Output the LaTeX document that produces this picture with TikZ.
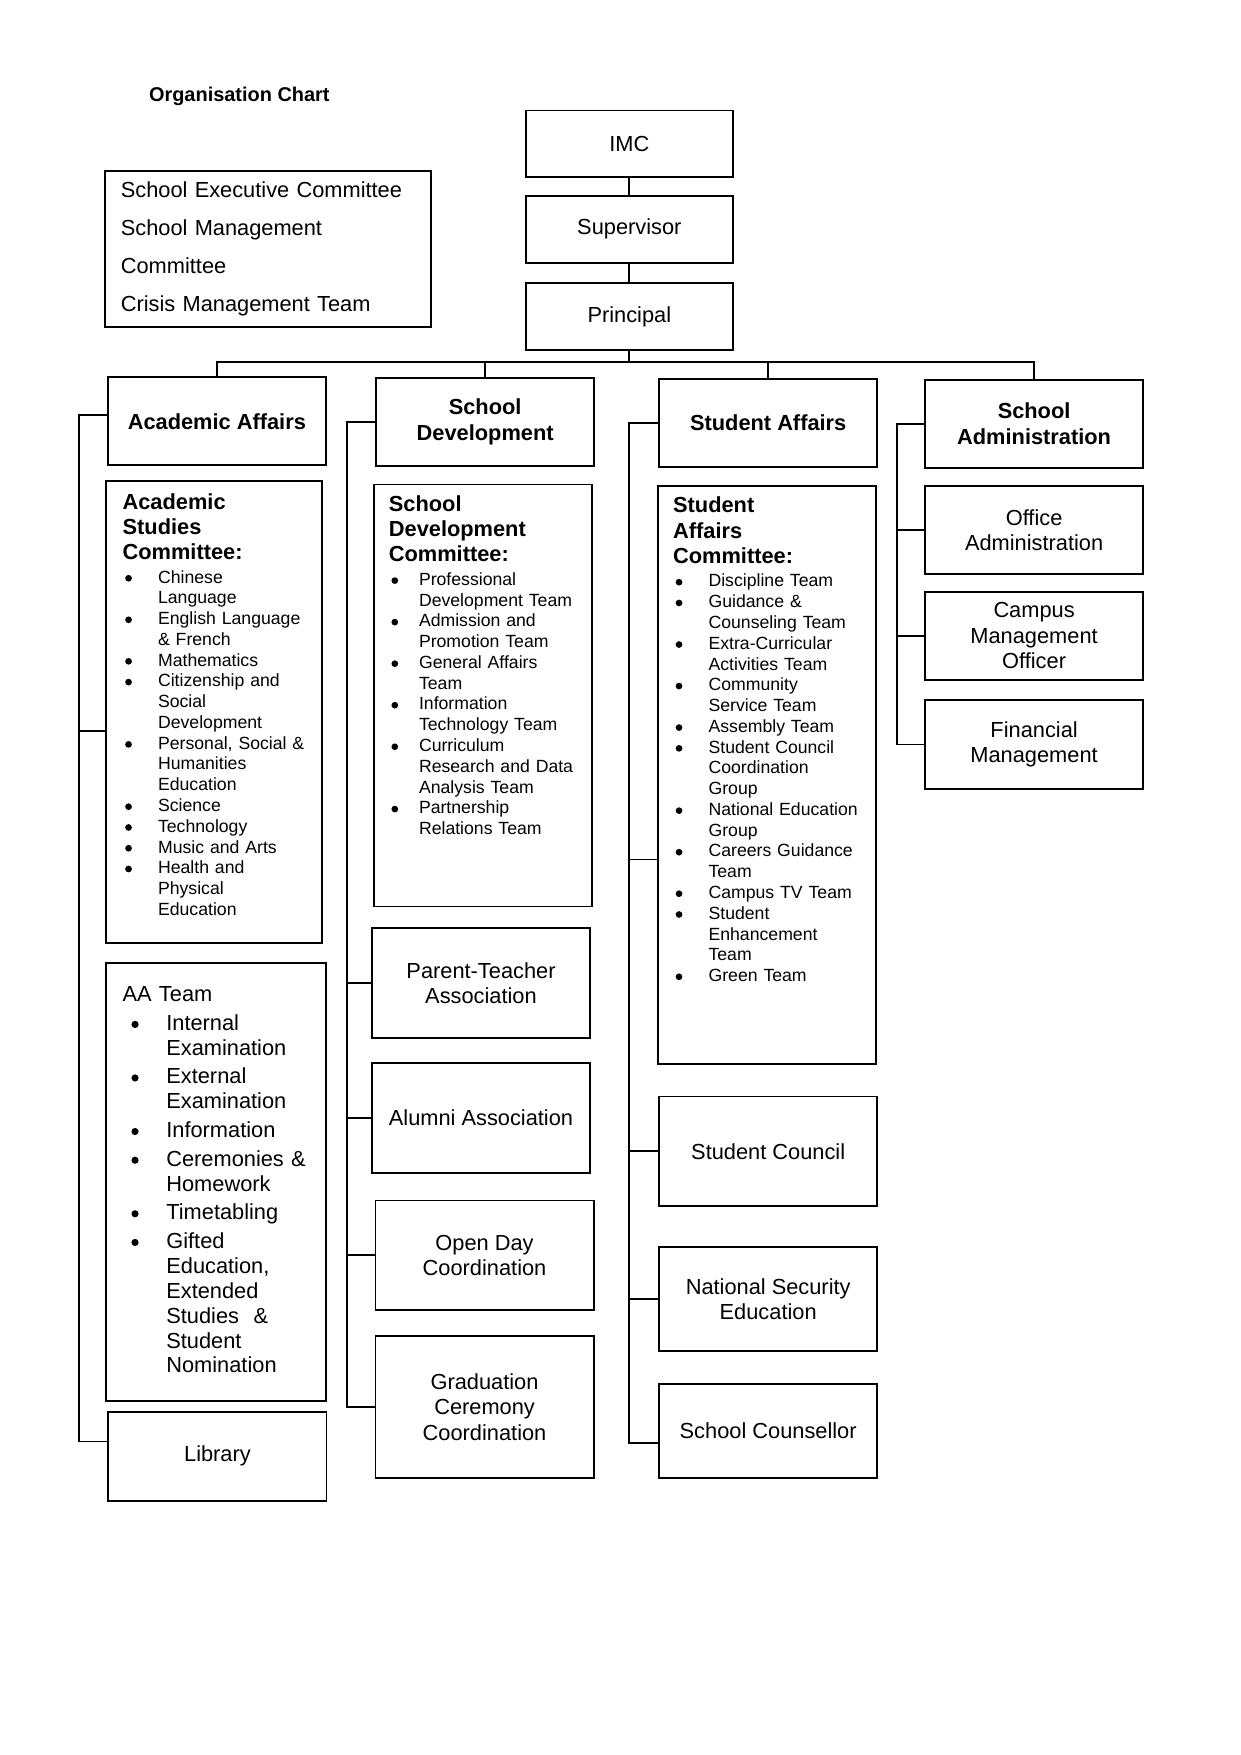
\documentclass[tikz,border=0pt]{standalone}
\usepackage{fontspec}
\setmainfont{Liberation Sans}
\usepackage{tikz}
\usetikzlibrary{positioning}

\newcommand{\fsz}[2]{\fontsize{#1}{#2}\selectfont}
\newlength{\bulw}
\setlength{\bulw}{0.2cm}
\newcommand{\bulr}{0.19em}
\newcommand{\bdot}{\tikz[baseline={(0,-0.27em)}]\fill (0,0) circle (\bulr);}
\newcommand{\bitem}[2][0.6cm]{\par\hangindent=#1\hangafter=1\noindent\makebox[#1][l]{\makebox[\bulw]{\bdot}}{\let\\\newline#2}\par}

\begin{document}
\begin{tikzpicture}[
  line width=0.9pt,
  font=\fsz{10.5}{12.2},
  box/.style={draw, minimum width=3.69cm, align=center, inner sep=2pt},
  topbox/.style={box, minimum width=3.5cm, minimum height=1.14cm},
  head/.style={box, minimum height=1.49cm, font=\bfseries\fsz{10.5}{12.4}},
  unit/.style={box, minimum height=1.86cm},
  panel/.style={draw, minimum width=3.69cm},
  listtext/.style={inner sep=0pt, align=left, text width=3.3cm, font=\fsz{8.5}{10}}
]
  \useasboundingbox (0,0) rectangle (21,-29.7);

  \node[font=\bfseries\fsz{9.6}{11}] (title) at (4.05,-1.63) {Organisation Chart};
  \node[draw, align=left, text width=4.98cm, inner xsep=0.265cm, minimum height=2.63cm, font=\fsz{10.5}{18.3}] (exec) at (4.535,-4.215) {School Executive Committee\\School Management\\Committee\\Crisis Management Team};

  \node[topbox, minimum height=1.12cm] (imc) at (10.65,-2.43) {IMC};
  \node[topbox] (sup) at (10.65,-3.88) {Supervisor};
  \node[topbox] (principal) at (10.65,-5.36) {Principal};

  \node[head] (aa) at (3.67,-7.13) {Academic Affairs};
  \node[head] (sd) at (8.21,-7.14) {School\\Development};
  \node[head] (sa) at (13.0,-7.16) {Student Affairs};
  \node[head] (admin) at (17.5,-7.17) {School\\Administration};

  \node[panel, minimum width=3.65cm, minimum height=7.82cm] (asc) at (3.625,-12.05) {};
  \node[listtext, below right=0.22cm and 0.284cm of asc.north west] (asctext) {%
    {\bfseries\fsz{10.5}{12.1}Academic\\Studies\\Committee:\par}\vspace{1.3pt}
    \bitem{Chinese\\Language}
    \bitem{English Language\\\& French}
    \bitem{Mathematics}
    \bitem{Citizenship and\\Social\\Development}
    \bitem{Personal, Social \&\\Humanities\\Education}
    \bitem{Science}
    \bitem{Technology}
    \bitem{Music and Arts}
    \bitem{Health and\\Physical\\Education}};
  \node[panel, minimum width=3.71cm, minimum height=7.42cm] (aat) at (3.655,-20.0) {};
  \node[listtext, font=\fsz{10.5}{12}, below right=0.415cm and 0.284cm of aat.north west] (aattext) {%
    \setlength{\parskip}{1.8pt}\setlength{\bulw}{0.42cm}\renewcommand{\bulr}{0.165em}AA Team\par
    \bitem[0.74cm]{Internal\\Examination}
    \bitem[0.74cm]{External\\Examination}
    \bitem[0.74cm]{Information}
    \bitem[0.74cm]{Ceremonies \&\\Homework}
    \bitem[0.74cm]{Timetabling}
    \bitem[0.74cm]{Gifted\\Education,\\Extended\\Studies \ \&\\Student\\Nomination}};
  \node[box, minimum height=1.5cm] (lib) at (3.68,-24.645) {Library};

  \node[panel, minimum height=7.14cm] (sdc) at (8.17,-11.77) {};
  \node[listtext, below right=0.20cm and 0.265cm of sdc.north west] (sdctext) {%
    {\bfseries\fsz{10.5}{12.1}School\\Development\\Committee:\par}\vspace{1.3pt}
    \bitem[0.51cm]{Professional\\Development Team}
    \bitem[0.51cm]{Admission and\\Promotion Team}
    \bitem[0.51cm]{General Affairs\\Team}
    \bitem[0.51cm]{Information\\Technology Team}
    \bitem[0.51cm]{Curriculum\\Research and Data\\Analysis Team}
    \bitem[0.51cm]{Partnership\\Relations Team}};
  \node[unit, minimum height=1.87cm] (pta) at (8.14,-16.635) {Parent-Teacher\\Association};
  \node[unit] (alumni) at (8.14,-18.92) {Alumni Association};
  \node[unit] (openday) at (8.20,-21.245) {Open Day\\Coordination};
  \node[unit, minimum height=2.40cm] (grad) at (8.20,-23.81) {Graduation\\Ceremony\\Coordination};

  \node[panel, minimum height=9.79cm] (sac) at (12.98,-13.115) {};
  \node[listtext, below right=0.20cm and 0.265cm of sac.north west] (sactext) {%
    {\bfseries\fsz{10.5}{12.2}Student\\Affairs\\Committee:\par}\vspace{1.3pt}
    \bitem{Discipline Team}
    \bitem{Guidance \&\\Counseling Team}
    \bitem{Extra-Curricular\\Activities Team}
    \bitem{Community\\Service Team}
    \bitem{Assembly Team}
    \bitem{Student Council\\Coordination\\Group}
    \bitem{National Education\\Group}
    \bitem{Careers Guidance\\Team}
    \bitem{Campus TV Team}
    \bitem{Student\\Enhancement\\Team}
    \bitem{Green Team}};
  \node[unit] (council) at (13.0,-19.485) {Student Council};
  \node[unit, minimum height=1.76cm] (nse) at (13.0,-21.99) {National Security\\Education};
  \node[unit, minimum height=1.59cm] (couns) at (13.0,-24.22) {School Counsellor};

  \node[box, minimum height=1.49cm] (office) at (17.5,-8.975) {Office\\Administration};
  \node[box, minimum height=1.49cm] (campus) at (17.5,-10.76) {Campus\\Management\\Officer};
  \node[box, minimum height=1.5cm] (fin) at (17.5,-12.60) {Financial\\Management};

  \draw (imc) -- (sup);
  \draw (sup) -- (principal);
  \coordinate (bus) at (10.65,-6.12);
  \draw (principal) -- (bus);
  \draw (aa.north) |- (bus) -| (admin.north);
  \draw (sd.north) -- (sd.north |- bus);
  \draw (sa.north) -- (sa.north |- bus);

  \draw ([yshift=0.1cm]aa.west) -- ++(-0.465,0) coordinate (aaspine) |- ([yshift=0.25cm]lib.west);
  \draw ([yshift=-0.32cm]asc.west) -- ++(-0.44,0);

  \draw (sd.west) -- ++(-0.475,0) coordinate (sdspine) |- (grad.west);
  \draw (pta.west) -- (pta.west -| sdspine);
  \draw (alumni.west) -- (alumni.west -| sdspine);
  \draw (openday.west) -- (openday.west -| sdspine);

  \draw (sa.west) -- ++(-0.495,0) coordinate (saspine) |- ([yshift=-0.2cm]couns.west);
  \draw ([yshift=-1.43cm]sac.west) -- ++(-0.475,0);
  \draw (council.west) -- (council.west -| saspine);
  \draw (nse.west) -- (nse.west -| saspine);

  \draw (admin.west) -- ++(-0.455,0) coordinate (adspine) |- (fin.west);
  \draw (office.west) -- (office.west -| adspine);
  \draw (campus.west) -- (campus.west -| adspine);
\end{tikzpicture}
\end{document}
